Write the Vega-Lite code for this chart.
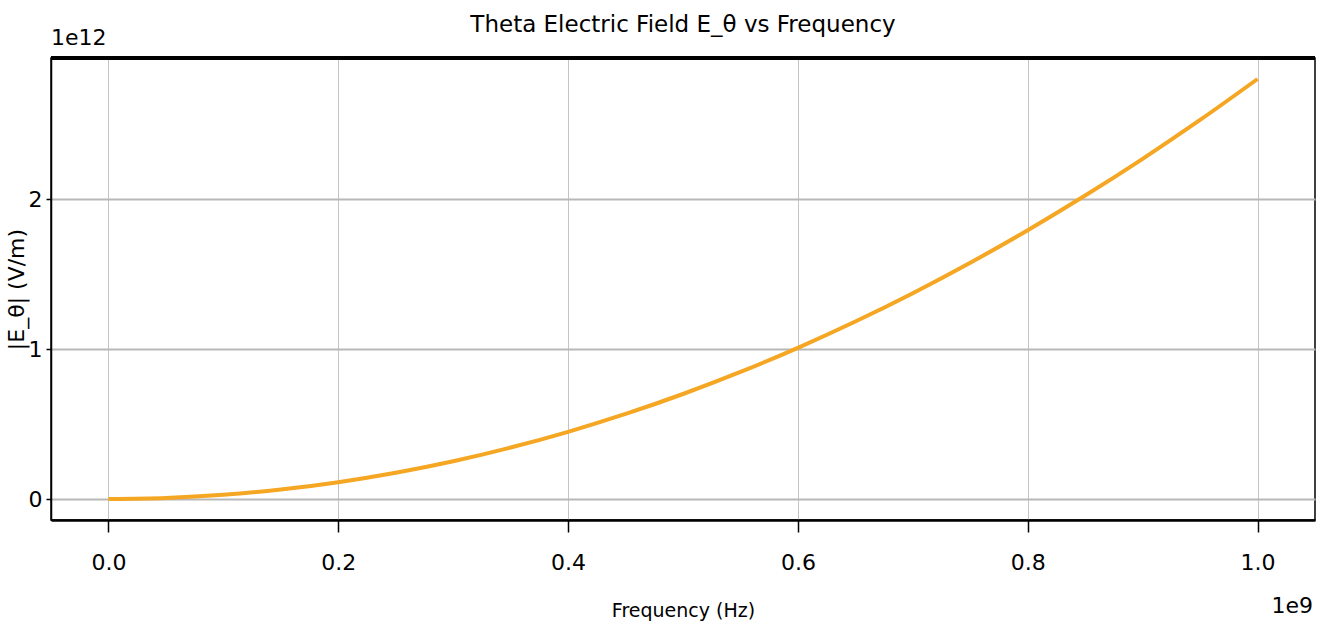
{
  "$schema": "https://vega.github.io/schema/vega-lite/v6.json",
  "width": 1264,
  "height": 462,
  "autosize": "none",
  "padding": {"left": 51, "top": 58, "right": 17, "bottom": 115},
  "background": "white",
  "config": {
    "font": "DejaVu Sans",
    "view": {"stroke": "black", "strokeWidth": 1.5},
    "axis": {"labelColor": "black", "titleColor": "black", "tickColor": "black", "domainColor": "black", "labelFontWeight": "normal", "titleFontWeight": "normal"}
  },
  "title": {
    "text": "Theta Electric Field E_θ vs Frequency",
    "fontSize": 23,
    "fontWeight": "normal",
    "color": "black",
    "anchor": "middle",
    "offset": -10
  },
  "datasets": {
    "curve": [
      {"freq": 0, "e": 0},
      {"freq": 50000000, "e": 7000000000},
      {"freq": 100000000, "e": 28000000000},
      {"freq": 150000000, "e": 63000000000},
      {"freq": 200000000, "e": 112000000000},
      {"freq": 250000000, "e": 175000000000},
      {"freq": 300000000, "e": 252000000000},
      {"freq": 350000000, "e": 343000000000},
      {"freq": 400000000, "e": 448000000000},
      {"freq": 450000000, "e": 567000000000},
      {"freq": 500000000, "e": 700000000000},
      {"freq": 550000000, "e": 847000000000},
      {"freq": 600000000, "e": 1008000000000},
      {"freq": 650000000, "e": 1183000000000},
      {"freq": 700000000, "e": 1372000000000},
      {"freq": 750000000, "e": 1575000000000},
      {"freq": 800000000, "e": 1792000000000},
      {"freq": 850000000, "e": 2023000000000},
      {"freq": 900000000, "e": 2268000000000},
      {"freq": 950000000, "e": 2527000000000},
      {"freq": 1000000000, "e": 2800000000000}
    ],
    "offsets": [
      {"freq": -50000000, "e": 2940000000000, "label": "1e12", "pos": "top"},
      {"freq": 1050000000, "e": -140000000000, "label": "1e9", "pos": "bottom"}
    ]
  },
  "layer": [
    {
      "data": {"name": "curve"},
      "mark": {"type": "line", "color": "#f5a623", "strokeWidth": 4, "interpolate": "monotone"},
      "encoding": {
        "x": {
          "field": "freq", "type": "quantitative",
          "scale": {"domain": [-50000000, 1050000000], "nice": false, "zero": false},
          "axis": {
            "values": [0, 200000000, 400000000, 600000000, 800000000, 1000000000],
            "labelExpr": "format(datum.value / 1e9, '.1f')",
            "labelFontSize": 22,
            "labelPadding": 20,
            "tickSize": 12,
            "tickWidth": 1.5,
            "domainWidth": 2.5,
            "gridColor": "#c4c4c4",
            "gridWidth": 1,
            "title": "Frequency (Hz)",
            "titleFontSize": 19,
            "titleX": 632,
            "titleY": 90,
            "titleBaseline": "middle",
            "titleAlign": "center"
          }
        },
        "y": {
          "field": "e", "type": "quantitative",
          "scale": {"domain": [-140000000000, 2940000000000], "nice": false, "zero": false},
          "axis": {
            "values": [0, 1000000000000, 2000000000000],
            "labelExpr": "format(datum.value / 1e12, 'd')",
            "labelFontSize": 22,
            "labelPadding": 4,
            "tickSize": 5,
            "tickWidth": 1.5,
            "domainWidth": 1.5,
            "gridColor": "#b8b8b8",
            "gridWidth": 2,
            "title": "|E_θ| (V/m)",
            "titleFontSize": 22,
            "titleAngle": -90,
            "titleX": -35,
            "titleY": 231,
            "titleBaseline": "middle",
            "titleAlign": "center"
          }
        }
      }
    },
    {
      "data": {"name": "curve"},
      "mark": {"type": "rule", "color": "black", "strokeWidth": 2.5},
      "encoding": {
        "y": {"datum": 2940000000000, "type": "quantitative"}
      }
    },
    {
      "data": {"name": "offsets"},
      "transform": [{"filter": "datum.pos == 'top'"}],
      "mark": {"type": "text", "align": "left", "baseline": "bottom", "dy": -8, "fontSize": 22, "color": "black"},
      "encoding": {
        "x": {"field": "freq", "type": "quantitative"},
        "y": {"field": "e", "type": "quantitative"},
        "text": {"field": "label"}
      }
    },
    {
      "data": {"name": "offsets"},
      "transform": [{"filter": "datum.pos == 'bottom'"}],
      "mark": {"type": "text", "align": "right", "baseline": "bottom", "dy": 98, "dx": -2, "fontSize": 22, "color": "black"},
      "encoding": {
        "x": {"field": "freq", "type": "quantitative"},
        "y": {"field": "e", "type": "quantitative"},
        "text": {"field": "label"}
      }
    }
  ]
}
